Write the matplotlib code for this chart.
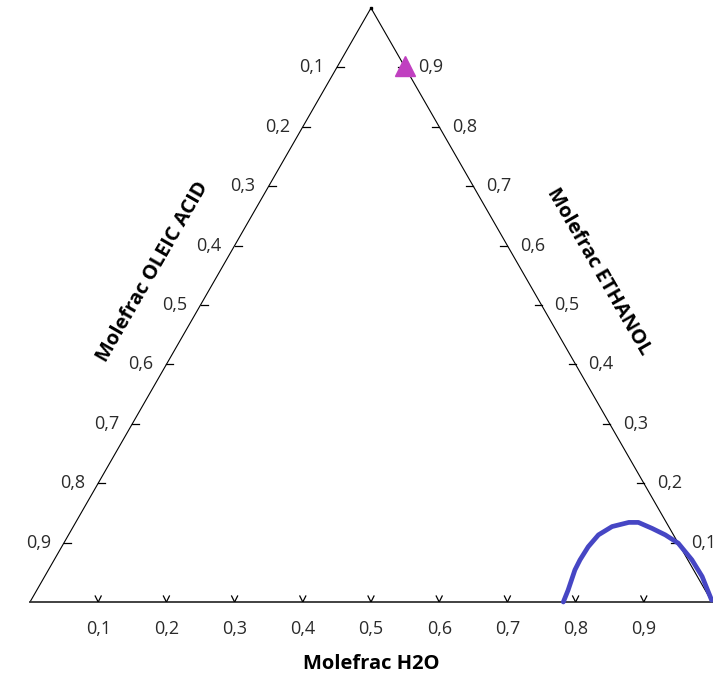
import numpy as np
import matplotlib.pyplot as plt

# binodal curve (mole fractions)
h2o_curve = [0.782, 0.779, 0.772, 0.771, 0.772, 0.777, 0.790, 0.811, 0.825,
             0.850, 0.875, 0.901, 0.935, 0.964, 0.998]
eth_curve = [0.000, 0.020, 0.054, 0.071, 0.093, 0.113, 0.127, 0.134, 0.134,
             0.124, 0.113, 0.099, 0.071, 0.043, 0.003]

# single feed point
point_h2o = [0.10]
point_eth = [0.90]

tick_vals = [0.1, 0.2, 0.3, 0.4, 0.5, 0.6, 0.7, 0.8, 0.9]
tick_labels = ['0,1', '0,2', '0,3', '0,4', '0,5', '0,6', '0,7', '0,8', '0,9']


def tern(h2o, eth):
    # H2O along the base, ETHANOL at the apex, OLEIC ACID bottom-left
    h2o = np.asarray(h2o, dtype=float)
    eth = np.asarray(eth, dtype=float)
    return h2o + eth / 2.0, eth


plt.rcParams['font.family'] = ['Open Sans', 'DejaVu Sans']

W, H = 713, 677
fig = plt.figure(figsize=(W / 100, H / 100), dpi=100)
ax = fig.add_axes([30 / W, 75 / H, 682 / W, 594 / H])
ax.set_xlim(0, 1)
ax.set_ylim(0, 1)
ax.axis('off')

px = 1 / 682.0  # one pixel in x data units
py = 1 / 594.0

# triangle
ax.plot([0, 0.5, 1], [0, 1, 0], color='black', lw=0.8, clip_on=False)
ax.plot([0, 1], [0, 0], color='#333333', lw=1.3, clip_on=False)
ax.plot([0.5], [1], 's', color='black', ms=2, clip_on=False)

lab_col = '#2a2a2a'
fs = 13
tfs = 14.5

for v, lab in zip(tick_vals, tick_labels):
    # left axis: OLEIC ACID
    x, y = tern(0.0, 1 - v)
    ax.plot([x, x + 7 * px], [y, y], color='black', lw=0.9)
    ax.annotate(lab, (x, y), xytext=(-13, 0), textcoords='offset pixels',
                ha='right', va='center', fontsize=fs, color=lab_col)
    # right axis: ETHANOL
    x, y = tern(1 - v, v)
    ax.plot([x - 7 * px, x], [y, y], color='black', lw=0.9)
    ax.annotate(lab, (x, y), xytext=(13, 0), textcoords='offset pixels',
                ha='left', va='center', fontsize=fs, color=lab_col)
    # bottom axis: H2O
    x, y = tern(v, 0.0)
    ax.plot([x - 3 * px, x], [6 * py, 0], color='black', lw=0.9)
    ax.plot([x + 3 * px, x], [6 * py, 0], color='black', lw=0.9)
    ax.annotate(lab, (x, y), xytext=(0, -27), textcoords='offset pixels',
                ha='center', va='center', fontsize=fs, color=lab_col)

# axis titles
ax.annotate('Molefrac H2O', (0.5, 0), xytext=(0, -62), textcoords='offset pixels',
            ha='center', va='center', fontsize=tfs, fontweight='bold')
ax.annotate('Molefrac OLEIC ACID', (0.25, 0.5), xytext=(-48, 33), textcoords='offset pixels',
            ha='center', va='center', fontsize=tfs, fontweight='bold', rotation=60,
            rotation_mode='anchor')
ax.annotate('Molefrac ETHANOL', (0.75, 0.5), xytext=(57, 33), textcoords='offset pixels',
            ha='center', va='center', fontsize=tfs, fontweight='bold', rotation=-60,
            rotation_mode='anchor')

# data
cx, cy = tern(h2o_curve, eth_curve)
ax.plot(cx, cy, color='#4646c4', lw=3.4, clip_on=False, solid_capstyle='round',
        solid_joinstyle='round')
mx, my = tern(point_h2o, point_eth)
ax.plot(mx, my + 1 * py, '^', color='#c040c0', ms=14, mec='#c040c0', clip_on=False)

fig.savefig('out.png', dpi=100)
